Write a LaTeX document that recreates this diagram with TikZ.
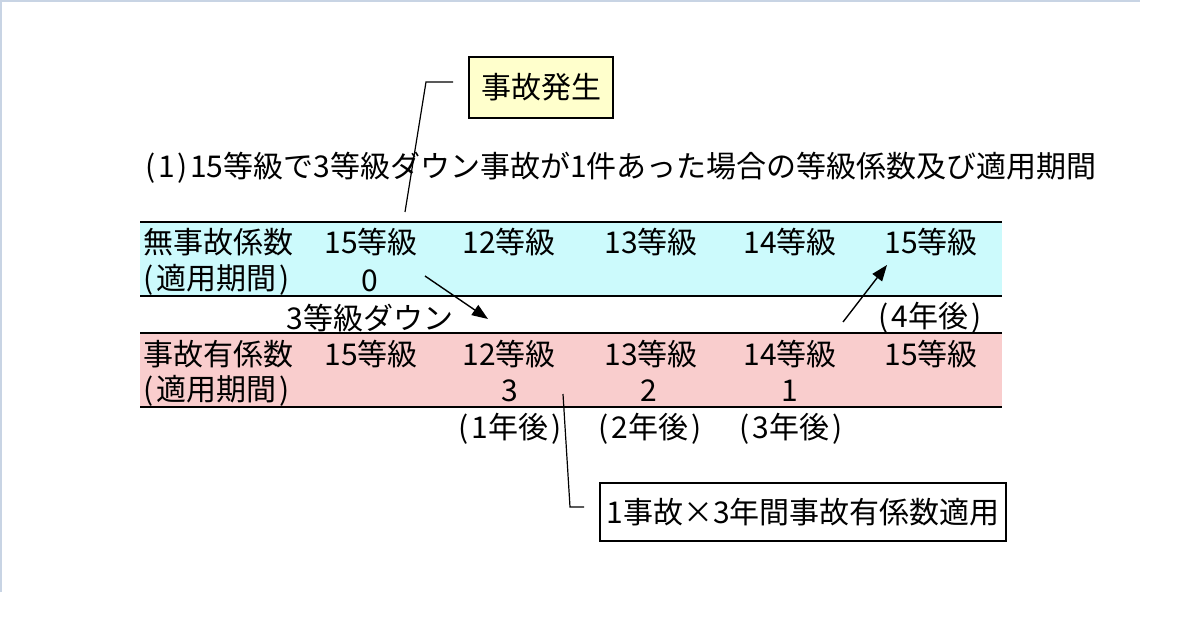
\documentclass[tikz,border=0pt]{standalone}
\usepackage{fontspec}
\setmainfont{Noto Sans CJK JP}
\usetikzlibrary{arrows.meta}
\definecolor{bandblue}{RGB}{204,250,252}
\definecolor{bandpink}{RGB}{249,205,205}
\definecolor{noteyellow}{RGB}{255,255,204}
\definecolor{framecol}{RGB}{200,212,228}
\newcommand{\lparen}{\kern2pt(\kern3pt}
\newcommand{\rparen}{\kern3pt)\kern2pt}
\tikzset{
  txt/.style={inner sep=0pt, font=\fontsize{30}{35}\selectfont, anchor=center},
  rule/.style={line width=1.6pt},
  callout/.style={line width=1.2pt},
  arr/.style={line width=1.4pt, -{Triangle[length=16pt,width=12pt]}},
  notebox/.style={draw, line width=1.6pt, inner xsep=6pt, inner ysep=8pt, font=\fontsize{30}{35}\selectfont}
}
\begin{document}
\begin{tikzpicture}[x=1pt,y=-1pt]
\useasboundingbox (0,0) rectangle (1200,620);
\fill[white] (0,0) rectangle (1200,620);
\draw[framecol, line width=1.2pt] (1,592) -- (1,1) -- (1140,1);
% bands
\fill[bandblue] (140,222) rectangle (1002,296);
\fill[bandpink] (140,333) rectangle (1002,407);
\draw[rule] (140,222) -- (1002,222);
\draw[rule] (140,296) -- (1002,296);
\draw[rule] (140,333) -- (1002,333);
\draw[rule] (140,407) -- (1002,407);
% title
\node[txt, anchor=west] (title) at (143,168) {\lparen1\rparen15等級で3等級ダウン事故が1件あった場合の等級係数及び適用期間};
% row 1
\node[txt, anchor=west] (r1a) at (143,242) {無事故係数};
\node[txt, anchor=west] (r1b) at (141,280) {\lparen 適用期間\rparen};
\node[txt] (b1) at (371,242) {15等級};
\node[txt] (b2) at (509,242) {12等級};
\node[txt] (b3) at (651,242) {13等級};
\node[txt] (b4) at (790,242) {14等級};
\node[txt] (b5) at (931,242) {15等級};
\node[txt] (b0) at (370,281) {0};
% middle
\node[txt] (down) at (370,318) {3等級ダウン};
\node[txt] (y4) at (930,318) {\lparen 4年後\rparen};
% row 2
\node[txt, anchor=west] (r2a) at (143,354) {事故有係数};
\node[txt, anchor=west] (r2b) at (141,391) {\lparen 適用期間\rparen};
\node[txt] (p1) at (371,354) {15等級};
\node[txt] (p2) at (509,354) {12等級};
\node[txt] (p3) at (651,354) {13等級};
\node[txt] (p4) at (790,354) {14等級};
\node[txt] (p5) at (931,354) {15等級};
\node[txt] (n3) at (510,391) {3};
\node[txt] (n2) at (649,391) {2};
\node[txt] (n1) at (790,391) {1};
% below
\node[txt] (y1) at (510,429) {\lparen 1年後\rparen};
\node[txt] (y2) at (650,429) {\lparen 2年後\rparen};
\node[txt] (y3) at (791,429) {\lparen 3年後\rparen};
% note boxes
\node[notebox, fill=noteyellow, minimum width=144pt, minimum height=61pt] (event) at (541,87.5) {事故発生};
\node[notebox, fill=white, minimum width=406pt, minimum height=58pt] (rule3) at (803,512) {1事故×3年間事故有係数適用};
% callouts
\coordinate (c1a) at (426,82);
\coordinate (c1b) at (405,212);
\draw[callout] ([xshift=-15pt]event.west |- c1a) -- (c1a) -- (c1b);
\coordinate (c2a) at (570,507);
\coordinate (c2b) at (563,394);
\draw[callout] ([xshift=-15pt]rule3.west |- c2a) -- (c2a) -- (c2b);
% arrows
\coordinate (a1s) at (425,276);
\coordinate (a1e) at (488,319);
\draw[arr] (a1s) -- (a1e);
\coordinate (a2s) at (843,322);
\coordinate (a2e) at (887,265);
\draw[arr] (a2s) -- (a2e);
\end{tikzpicture}
\end{document}
